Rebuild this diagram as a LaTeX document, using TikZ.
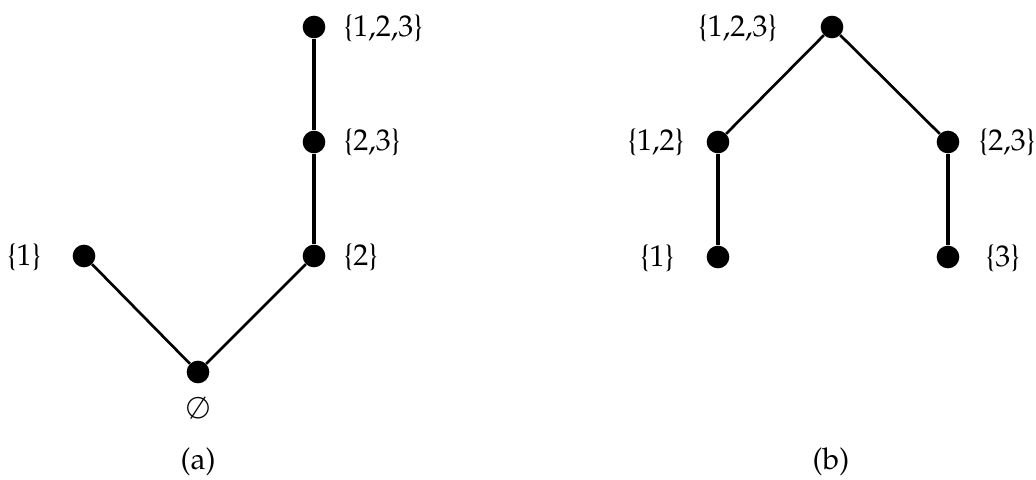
\documentclass[tikz,border=0pt]{standalone}
\usepackage[T1]{fontenc}
\usepackage{mathpazo}
\begin{document}
\begin{tikzpicture}[x=0.75pt,y=-0.75pt,
  dot/.style={circle,fill=black,inner sep=0pt,minimum size=17pt},
  lab/.style={inner sep=0pt,font=\fontsize{22.5}{27}\selectfont},
  vedge/.style={line width=2.9pt},
  dedge/.style={line width=2pt}]
\useasboundingbox (0,0) rectangle (1036,479);
% (a)
\node[dot] (a123) at (314,27) {};
\node[dot] (a23) at (314,142) {};
\node[dot] (a2) at (314,256) {};
\node[dot] (a1) at (84,256) {};
\node[dot] (a0) at (198,372) {};
\draw[vedge] (a123) -- (a23);
\draw[vedge] (a23) -- (a2);
\draw[dedge] (a1) -- (a0);
\draw[dedge] (a2) -- (a0);
\node[lab,anchor=west] (la123) at (343,28) {\{1,2,3\}};
\node[lab,anchor=west] (la23) at (343,142) {\{2,3\}};
\node[lab,anchor=west] (la2) at (343,257) {\{2\}};
\node[lab,anchor=east] (la1) at (42,257) {\{1\}};
\node[lab] (la0) at (198,408) {$\emptyset$};
\node[lab] (capa) at (198,462) {(a)};
% (b)
\node[dot] (b123) at (832,27) {};
\node[dot] (b12) at (718,142) {};
\node[dot] (b23) at (948,142) {};
\node[dot] (b1) at (718,257) {};
\node[dot] (b3) at (948,257) {};
\draw[dedge] (b123) -- (b12);
\draw[dedge] (b123) -- (b23);
\draw[vedge] (b12) -- (b1);
\draw[vedge] (b23) -- (b3);
\node[lab,anchor=east] (lb123) at (778,28) {\{1,2,3\}};
\node[lab,anchor=east] (lb12) at (685,142) {\{1,2\}};
\node[lab,anchor=west] (lb23) at (978,142) {\{2,3\}};
\node[lab,anchor=east] (lb1) at (675,258) {\{1\}};
\node[lab,anchor=west] (lb3) at (985,258) {\{3\}};
\node[lab] (capb) at (831,462) {(b)};
\end{tikzpicture}
\end{document}
